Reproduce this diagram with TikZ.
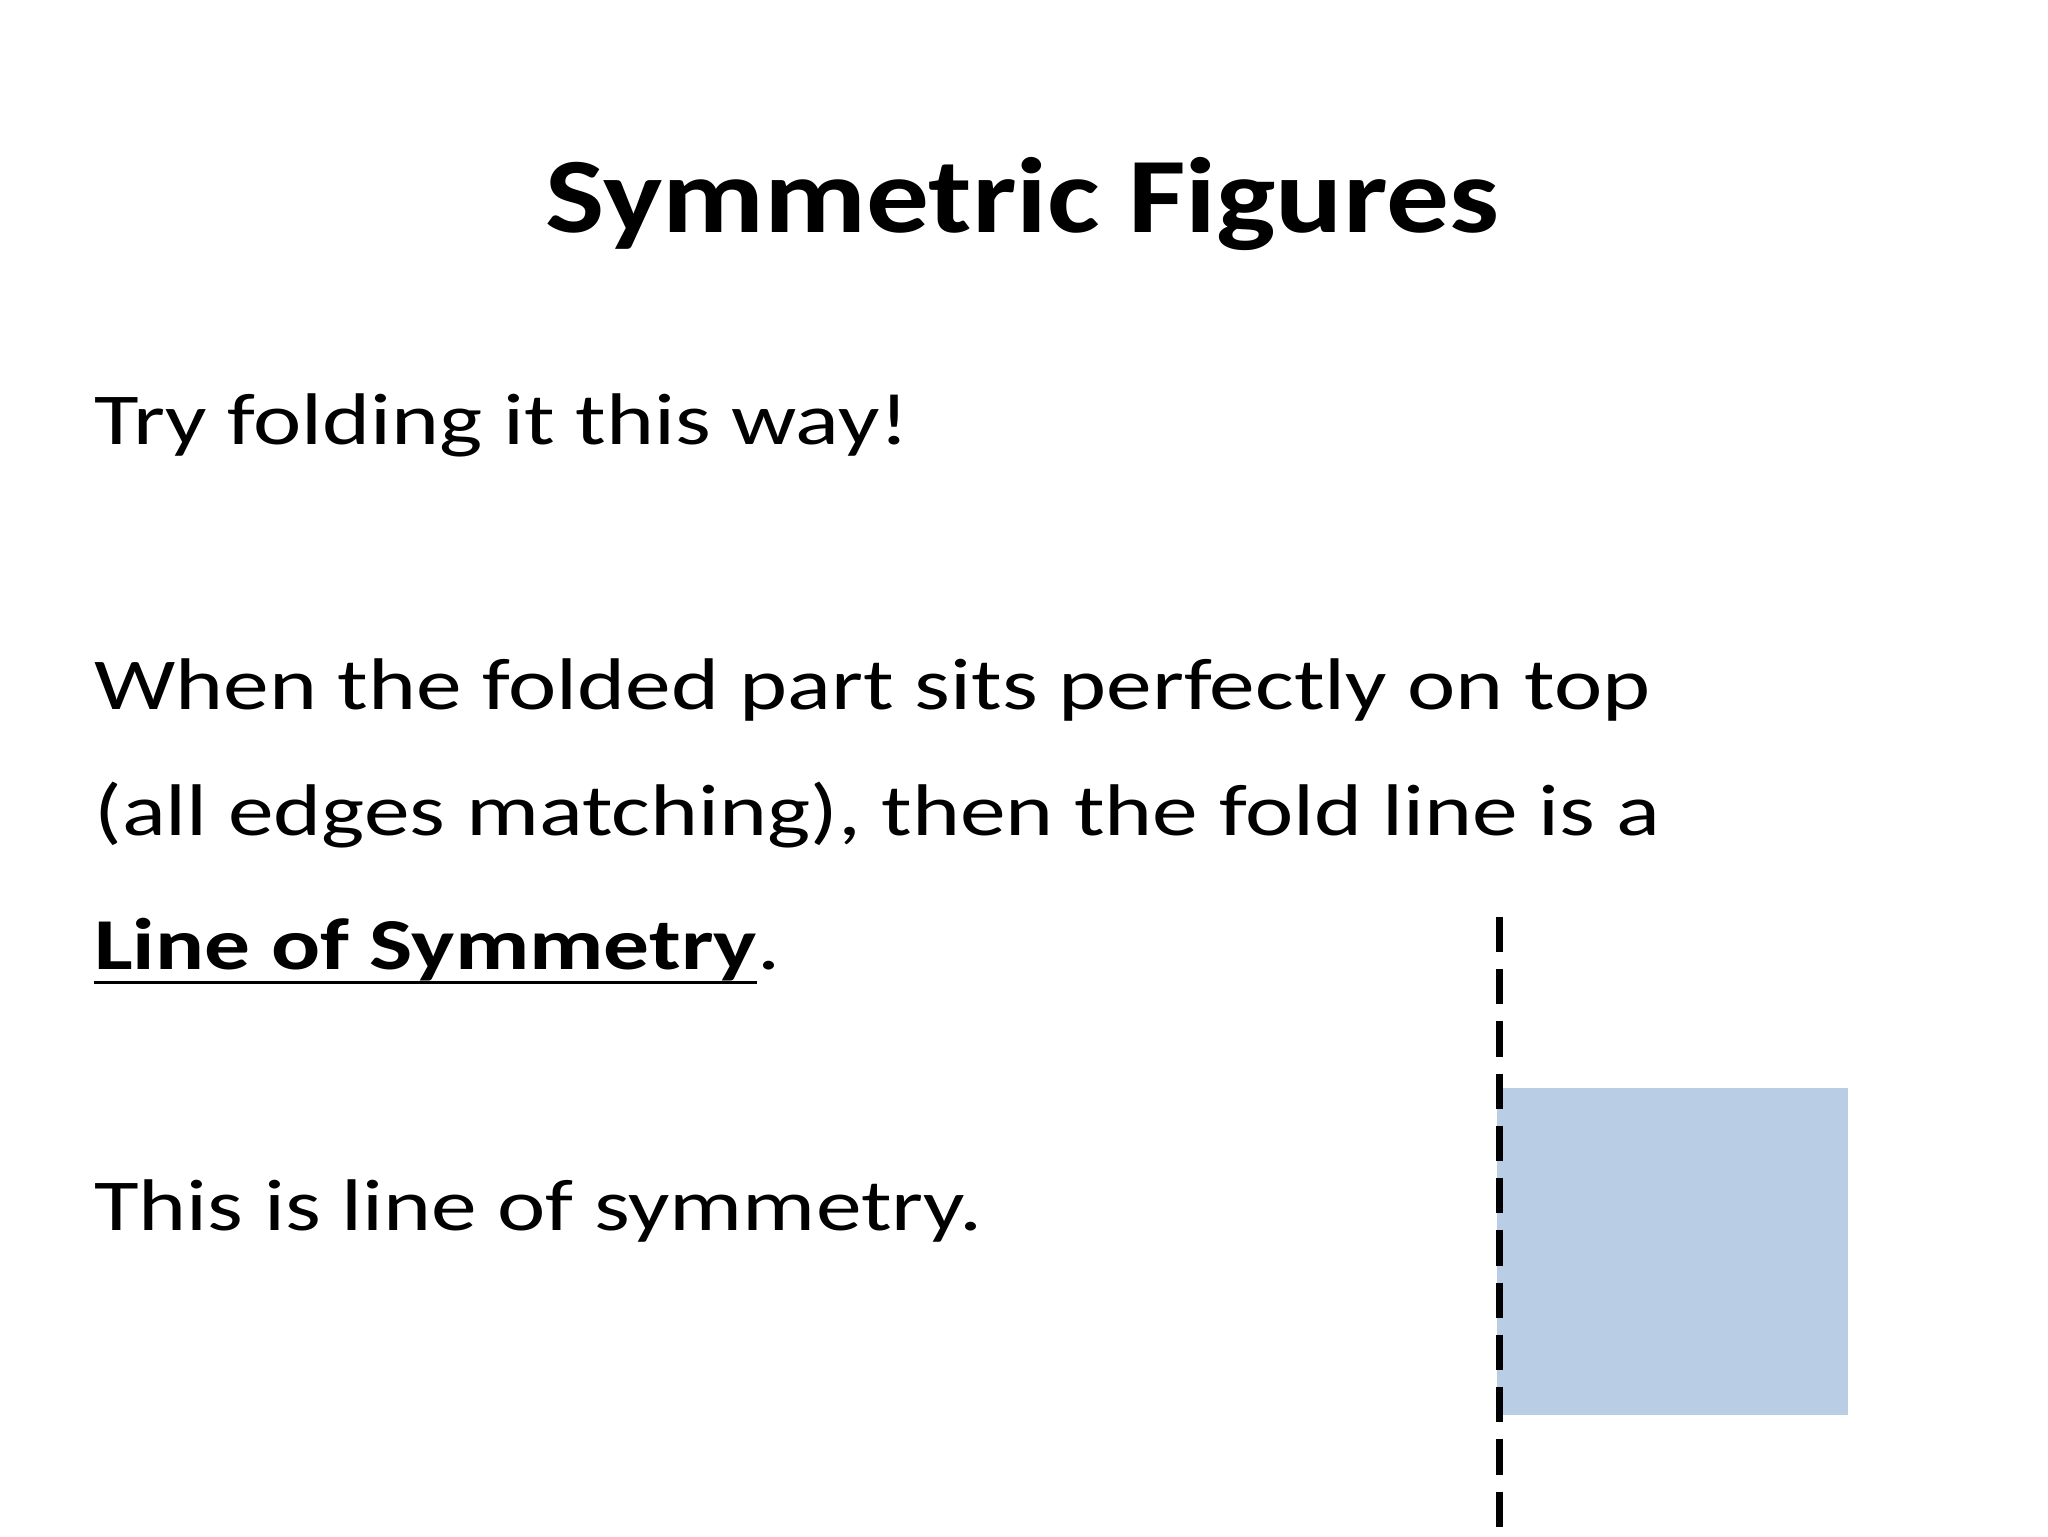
\documentclass[tikz,border=0pt]{standalone}
\usepackage{fontspec}
\setmainfont{Carlito}
\newfontfamily\bodyfont[FakeStretch=1.25]{Carlito}
\newfontfamily\titlefont[FakeStretch=1.17]{Carlito}
\definecolor{boxblue}{HTML}{B9CDE5}
\begin{document}
\begin{tikzpicture}[x=1pt,y=-1pt,
  body/.style={anchor=base west,inner sep=0pt,font=\bodyfont\fontsize{56}{60}\selectfont}]
\useasboundingbox (0,0) rectangle (1568,1176);
\fill[white] (0,0) rectangle (1568,1176);
\node[anchor=base,inner sep=0pt,font=\titlefont\fontsize{82}{90}\selectfont\bfseries] (title) at (783,178) {Symmetric Figures};
\node[body] (t1) at (72,340) {Try folding it this way!};
\node[body] (t2) at (72,543) {When the folded part sits perfectly on top};
\node[body] (t3) at (72,640) {(all edges matching), then the fold line is a};
\node[body] (t4) at (72,742) {\bfseries Line of Symmetry};
\node[body] (t4b) at (t4.base east) {.};
\draw[line width=2.5pt] ([yshift=-10pt]t4.base west) -- ([yshift=-10pt]t4.base east);
\node[body] (t5) at (72,942) {This is line of symmetry.};
\fill[boxblue] (1146,833) rectangle (1415,1083);
\draw[line width=5pt,dash pattern=on 27pt off 13pt] (1148,702) -- (1148,1176);
\end{tikzpicture}
\end{document}
